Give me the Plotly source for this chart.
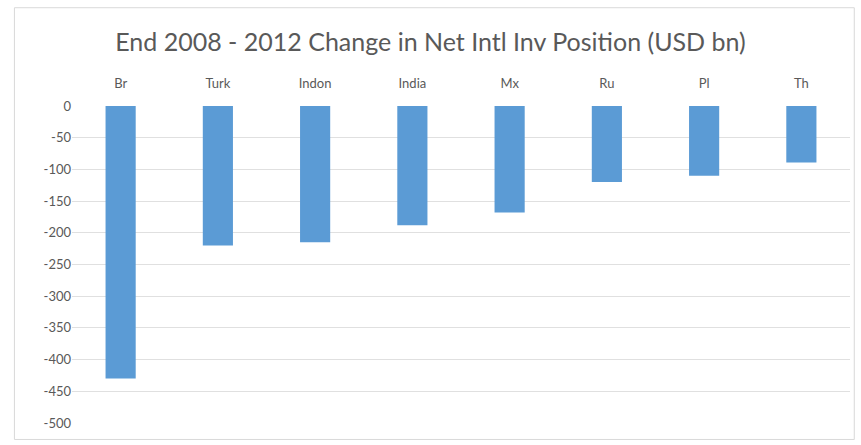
import plotly.graph_objects as go

categories = ["Br", "Turk", "Indon", "India", "Mx", "Ru", "Pl", "Th"]
values = [-430, -220, -215, -188, -168, -120, -110, -89]
y_ticks = [0, -50, -100, -150, -200, -250, -300, -350, -400, -450, -500]

fig = go.Figure(go.Bar(x=categories, y=values, marker=dict(color="#5b9bd5", line=dict(width=0))))

fig.update_layout(
    width=861, height=445,
    margin=dict(l=72, r=11, t=106, b=22),
    paper_bgcolor="white", plot_bgcolor="white",
    bargap=0.69,
    showlegend=False,
    font=dict(family="Lato", color="#595959"),
    title=dict(text="End 2008 - 2012 Change in Net Intl Inv Position (USD bn)",
               x=0.5, xanchor="center", y=0.905, yanchor="middle",
               font=dict(family="Lato", size=25, color="#595959")),
    xaxis=dict(side="top", showgrid=False, showline=False, ticks="",
               ticklabelstandoff=14,
               tickfont=dict(size=13, color="#595959")),
    yaxis=dict(range=[-500, 0], tickvals=y_ticks, ticktext=[str(v) for v in y_ticks],
               showgrid=True, gridcolor="#e0e0e0", gridwidth=1, zeroline=False,
               showline=False, ticks="", tickfont=dict(size=13, color="#595959")),
    shapes=[dict(type="rect", xref="paper", yref="paper", x0=-0.074, x1=1.0055, y0=-0.052, y1=1.31,
                 line=dict(color="#d9d9d9", width=1), fillcolor="rgba(0,0,0,0)", layer="below")],
)

fig.write_html("out.html")
